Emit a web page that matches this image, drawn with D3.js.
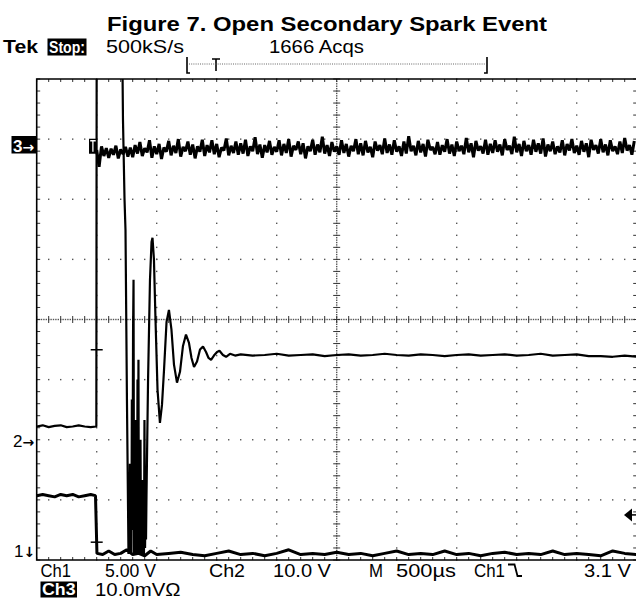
<!DOCTYPE html>
<html>
<head>
<meta charset="utf-8">
<script src="https://cdn.jsdelivr.net/npm/d3@7"></script>
<style>
  html, body { margin: 0; padding: 0; background: #fff; }
  svg { display: block; }
  text { font-family: 'Liberation Sans', Arial, sans-serif; }
</style>
</head>
<body>
<svg id="canvas" width="636" height="600"></svg>
<script>
// scope settings
var timeDomain = [-500, 4500] // µs, 500 µs/div, trigger one division in
var divisions = 8
var voltsPerDiv = [5, 10, 10] // Ch1 V, Ch2 V, Ch3 mV
var groundDiv = [0.13, 2.0, 6.94] // where each channel's ground marker sits
var triggerLevel = 3.1 // Ch1, falling edge

// Ch1 (5 V/div)
var ch1Time = [-500, -450, -400, -350, -300, -250, -200, -150, -100, -50, -10, 2,
  50, 100, 150, 200, 250, 300, 350, 400, 450, 500, 600, 700, 800, 900, 1000, 1100,
  1200, 1300, 1400, 1500, 1600, 1700, 1800, 1900, 2000, 2100, 2200, 2300, 2400,
  2500, 2600, 2700, 2800, 2900, 3000, 3100, 3200, 3300, 3400, 3500, 3600, 3700,
  3800, 3900, 4000, 4100, 4200, 4300, 4400, 4500]
var ch1Volts = [4.7, 4.8, 4.7, 4.6, 4.8, 4.7, 4.8, 4.6, 4.7, 4.8, 4.7, -0.1,
  -0.2, 0.1, -0.2, -0.1, 0.2, -0.2, -0.1, -0.3, 0.1, -0.2, -0.1, 0.0, -0.2, -0.3,
  -0.1, 0.1, -0.2, -0.1, -0.3, -0.1, 0.2, -0.2, -0.1, -0.2, 0.0, -0.2, -0.1, -0.3,
  -0.1, 0.1, -0.2, -0.1, -0.2, 0.1, -0.2, -0.1, -0.3, -0.1, 0.0, -0.2, -0.1, -0.2,
  0.1, -0.2, -0.1, -0.2, -0.3, 0.1, -0.1, -0.2]

// Ch2 (10 V/div), off the top of the screen between the edges
var ch2Time = [-500, -450, -400, -350, -300, -250, -200, -150, -100, -50, -3, 0, 211,
  219, 232, 240, 252, 265, 269, 273, 277, 281, 285, 289, 293, 298, 303, 307, 311,
  315, 319, 323, 327, 332, 336, 340, 344, 348, 352, 357, 361, 365, 369, 373, 377,
  382, 386, 390, 394, 398, 403, 407, 411, 415, 428, 444, 457, 465, 477, 490, 507,
  527, 544, 561, 582, 602, 623, 644, 669, 694, 719, 744, 769, 790, 811, 836, 861,
  886, 911, 932, 953, 977, 1003, 1023, 1052, 1078, 1111, 1153,
  1200, 1300, 1400, 1500, 1600, 1700, 1800, 1900, 2000, 2100, 2200, 2300, 2400,
  2500, 2600, 2700, 2800, 2900, 3000, 3100, 3200, 3300, 3400, 3500, 3600, 3700,
  3800, 3900, 4000, 4100, 4200, 4300, 4400, 4500]
var ch2Volts = [2.2, 2.4, 2.1, 2.3, 2.4, 2.1, 2.2, 2.4, 2.2, 2.1, 2.2, 70, 70,
  53.2, 39.9, 34.9, 6.7, -19, -9, -19, -4, -19, -7, -19, 6.7, -15, 18, 26.6, -19,
  -2, -19, 3.3, -17, -8, -19, 10, -12, 13.3, -19, -3, -19, 0, -19, -10, -19,
  -6.7, -19, -12, -19, 3.3, -18, -10, -16.6, -9.2, 10, 26.6, 32.9, 33.6, 30, 20,
  8.3, 2.8, 5.8, 11.6, 19.6, 21.6, 18.3, 12.5, 9.5, 11.3, 15.6, 17.5, 16.1, 13.6,
  12.1, 13.0, 15.0, 15.5, 14.6, 13.6, 13.3, 14.0, 14.6, 14.8, 14.1, 13.8, 14.3,
  14.0,
  14.2, 14.0, 14.1, 14.3, 14.0, 14.1, 14.2, 13.9, 14.1, 14.2, 14.0, 14.1, 14.3,
  14.1, 14.0, 14.2, 14.1, 13.9, 14.1, 14.2, 14.0, 14.1, 14.2, 14.0, 14.1, 14.3,
  14.0, 14.1, 14.2, 13.9, 13.9, 13.8, 14.0, 13.8]

// Ch3 (10 mV/div), one sample every 20 µs from the trigger on
var ch3Start = 0
var ch3Interval = 20
var ch3MilliVolts = [
  -1.2, -4.0, -0.6, -2.2, -0.9, -2.5, -1.0, -2.0, -0.5, -2.6, -1.1, -1.9, -0.7, -2.3, -0.8,
  -2.4, -0.4, -1.8, 0.1, -2.2, -0.9, -1.6, 0.4, -2.5, -0.6, -1.9, -0.2, -2.7, -0.8, -1.5,
  0.3, -2.1, -0.5, -1.7, 0.6, -2.3, -0.7, -1.4, 0.2, -2.0, -0.3, -2.6, -0.6, -1.5, 0.5,
  -2.2, -0.4, -1.6, 0.4, -1.9, -0.2, -2.4, -0.8, -1.3, 0.7, -2.1, -0.5, -1.7, 0.2, -2.0,
  -0.1, -1.8, 0.5, -2.2, -0.6, -1.4, 0.9, -1.9, -0.3, -2.5, -0.4, -1.6, 0.3, -2.0, -0.7,
  -1.5, 0.4, -2.1, -0.2, -1.7, 0.6, -2.3, -0.5, -1.2, 0.2, -1.9, -0.1, -2.6, -0.6, -1.4,
  0.5, -2.0, -0.3, -1.6, 1.0, -1.8, -0.4, -2.2, 0.1, -1.5, -0.6, -2.0, 0.4, -1.7, -0.2,
  -2.3, -0.5, -1.4, 0.6, -1.9, -0.1, -2.1, 0.3, -1.6, -0.7, -2.4, 0.2, -1.3, -0.4, -1.9,
  0.7, -1.7, -0.3, -2.0, 0.4, -1.5, -0.6, -2.2, 0.2, -1.8, 1.1, -1.4, -0.5, -2.1, 0.3,
  -1.6, -0.2, -2.3, 0.5, -1.2, -0.7, -1.9, 0.1, -2.0, -0.4, -1.5, 0.6, -1.8, -0.3, -2.2,
  0.2, -1.4, -0.5, -1.9, 0.8, -1.6, -0.1, -2.4, 0.3, -1.3, -0.6, -1.8, 0.5, -2.0, -0.2,
  -1.7, 0.4, -1.5, -0.3, -2.1, 0.6, -1.2, -0.5, -1.9, 1.0, -1.6, -0.2, -2.2, 0.3, -1.4,
  -0.4, -2.0, 0.5, -1.5, -0.1, -1.8, 0.7, -2.3, -0.3, -1.4, 0.2, -1.9, -0.6, -1.6, 0.4,
  -2.1, -0.2, -1.3, 0.6, -1.7, -0.5, -2.0, 0.3, -1.5, -0.1, -2.4, 0.5, -1.2, -0.4, -1.8,
  0.6, -1.6, -0.3, -2.1, 0.4, -1.4, -0.6, -1.9, 0.2, -1.7, 0.8, -1.3, -0.4, -2.0, 0.3]

// texts on the screen
var titleText = 'Figure 7. Open Secondary Spark Event'
var statusTexts = ['Tek', 'Stop:', '500kS/s', '1666 Acqs']
var readoutTexts = ['Ch1', '5.00 V', 'Ch2', '10.0 V', 'M', '500µs', 'Ch1', '3.1 V']
var ch3Readout = ['Ch3', '10.0mVΩ']
var markerTexts = [['1', '↓'], ['2', '→'], ['3', '→']]

;(function (d3) {
  'use strict'
  var svg = d3.select('#canvas')
  var left = 36.7
  var right = 636.7
  var top = 79
  var bottom = 560

  var x = d3.scaleLinear().domain(timeDomain).range([left, right])
  var y = d3.scaleLinear().domain([0, divisions]).range([bottom, top])
  var timePerDiv = (timeDomain[1] - timeDomain[0]) / 10
  var centerTime = timeDomain[0] + timePerDiv * 5

  // ---- graticule
  var grid = svg.append('g')
  var minorX = d3.range(timeDomain[0], timeDomain[1] + 1, timePerDiv / 5)
  var minorY = d3.range(0, divisions + 0.01, 0.2)
  var majorX = d3.range(timeDomain[0] + timePerDiv, timeDomain[1] - 1, timePerDiv)
  var majorY = d3.range(1, divisions, 1)
  var dots = []
  majorX.forEach(function (t) {
    if (t === centerTime) return
    minorY.forEach(function (d) { dots.push([x(t), y(d)]) })
  })
  majorY.forEach(function (d) {
    if (d === divisions / 2) return
    minorX.forEach(function (t) { dots.push([x(t), y(d)]) })
  })
  // dense centre cross
  d3.range(timeDomain[0], timeDomain[1], timePerDiv / 25).forEach(function (t) {
    dots.push([x(t), y(divisions / 2)])
  })
  d3.range(0, divisions, 0.04).forEach(function (d) {
    dots.push([x(centerTime), y(d)])
  })
  grid.selectAll('rect.dot').data(dots).enter().append('rect')
    .attr('class', 'dot')
    .attr('x', function (d) { return d[0] - 0.7 })
    .attr('y', function (d) { return d[1] - 0.7 })
    .attr('width', 1.4)
    .attr('height', 1.4)
    .attr('fill', '#555')

  var ticks = []
  minorX.forEach(function (t) {
    ticks.push([x(t), top, x(t), top + 3])
    ticks.push([x(t), bottom - 3, x(t), bottom])
    ticks.push([x(t), y(divisions / 2) - 3.5, x(t), y(divisions / 2) + 3.5])
  })
  minorY.forEach(function (d) {
    ticks.push([left, y(d), left + 3.5, y(d)])
    ticks.push([right - 3.5, y(d), right, y(d)])
    ticks.push([x(centerTime) - 3.5, y(d), x(centerTime) + 3.5, y(d)])
  })
  grid.selectAll('line.tick').data(ticks).enter().append('line')
    .attr('class', 'tick')
    .attr('x1', function (d) { return d[0] })
    .attr('y1', function (d) { return d[1] })
    .attr('x2', function (d) { return d[2] })
    .attr('y2', function (d) { return d[3] })
    .attr('stroke', '#333')
    .attr('stroke-width', 1)

  grid.append('path')
    .attr('d', 'M' + right + ',' + top + 'H' + left + 'V' + bottom + 'H' + right)
    .attr('fill', 'none')
    .attr('stroke', '#000')
    .attr('stroke-width', 1.6)

  // ---- traces
  svg.append('clipPath').attr('id', 'screen').append('rect')
    .attr('x', left).attr('y', top)
    .attr('width', right - left).attr('height', bottom - top)

  function trace (times, values, ch, width) {
    var pts = times.map(function (t, i) { return [t, values[i]] })
    var line = d3.line()
      .x(function (d) { return x(d[0]) })
      .y(function (d) { return y(groundDiv[ch] + d[1] / voltsPerDiv[ch]) })
    svg.append('path')
      .datum(pts)
      .attr('clip-path', 'url(#screen)')
      .attr('d', line)
      .attr('fill', 'none')
      .attr('stroke', '#000')
      .attr('stroke-width', width)
      .attr('stroke-linejoin', 'bevel')
  }

  var ch3Time = ch3MilliVolts.map(function (v, i) { return ch3Start + i * ch3Interval })
  trace(ch3Time, ch3MilliVolts, 2, 3)
  trace(ch2Time, ch2Volts, 1, 2.2)
  trace(ch1Time, ch1Volts, 0, 3)

  // trigger point crosses on Ch2 and Ch1 edges
  var tx = x(0)
  ;[y(groundDiv[1]) - 90, y(groundDiv[0]) - 10].forEach(function (yy) {
    svg.append('line')
      .attr('x1', tx - 6).attr('x2', tx + 6)
      .attr('y1', yy).attr('y2', yy)
      .attr('stroke', '#000').attr('stroke-width', 1.5)
  })
  // Ch3 start flag
  var ch3y = y(groundDiv[2])
  svg.append('rect')
    .attr('x', tx - 7.7).attr('y', ch3y - 4)
    .attr('width', 8).attr('height', 15)
    .attr('fill', '#000')
  svg.append('path')
    .attr('d', 'M' + (tx - 6.5) + ',' + (ch3y - 2) + 'h5.5M' + (tx - 3.8) + ',' + (ch3y - 2) + 'v11')
    .attr('stroke', '#fff').attr('stroke-width', 1.3).attr('fill', 'none')

  // trigger level arrow on the right
  var ty = y(groundDiv[0] + triggerLevel / voltsPerDiv[0])
  svg.append('path')
    .attr('d', 'M624,' + ty + 'L632,' + (ty - 6.5) + 'V' + (ty + 6.5) + 'Z')
    .attr('fill', '#000')
  svg.append('line')
    .attr('x1', 631).attr('x2', 636).attr('y1', ty).attr('y2', ty)
    .attr('stroke', '#000').attr('stroke-width', 1.5)

  // ---- texts
  function label (str, lx, ly, w, opts) {
    opts = opts || {}
    var t = svg.append('text')
      .attr('x', lx).attr('y', ly)
      .attr('font-size', opts.size || 18)
      .attr('font-weight', opts.bold ? 'bold' : 'normal')
      .attr('fill', opts.fill || '#000')
      .text(str)
    if (w) t.attr('textLength', w).attr('lengthAdjust', 'spacingAndGlyphs')
    return t
  }
  function boxed (str, bx, by, bw, bh, size) {
    svg.append('rect').attr('x', bx).attr('y', by).attr('width', bw).attr('height', bh).attr('fill', '#000')
    label(str, bx + 1.5, by + bh - 2.5, bw - 3, { fill: '#fff', bold: true, size: size || 17 })
  }
  function marker (pair, mx, my, boxedMark) {
    if (boxedMark) {
      svg.append('rect').attr('x', mx - 1.5).attr('y', my - 15.5)
        .attr('width', 25).attr('height', 17.5).attr('fill', '#000')
    }
    var t = svg.append('text')
      .attr('x', mx).attr('y', my)
      .attr('font-size', 17)
      .attr('fill', boxedMark ? '#fff' : '#000')
      .attr('font-weight', boxedMark ? 'bold' : 'normal')
    t.append('tspan').text(pair[0])
    t.append('tspan')
      .attr('font-family', 'DejaVu Sans')
      .attr('font-size', 14)
      .attr('font-weight', 'bold')
      .text(pair[1])
  }

  label(titleText, 107, 31, 440, { bold: true, size: 21 })

  label(statusTexts[0], 3, 53, 35, { bold: true, size: 19 })
  boxed(statusTexts[1], 47.5, 38.5, 39, 17)
  label(statusTexts[2], 106, 53, 78, { size: 19 })
  label(statusTexts[3], 269, 53, 95, { size: 19 })

  // record bracket with trigger position
  svg.append('path')
    .attr('d', 'M190,73H187V57M484,73H487V57M212,59H220M216,59V71')
    .attr('fill', 'none').attr('stroke', '#000').attr('stroke-width', 1.6)
  svg.append('line')
    .attr('x1', 189).attr('x2', 486).attr('y1', 64).attr('y2', 64)
    .attr('stroke', '#666').attr('stroke-width', 1).attr('stroke-dasharray', '1,1.2')

  // channel ground markers
  marker(markerTexts[0], 14, 557, false)
  marker(markerTexts[1], 13, 447, false)
  marker(markerTexts[2], 13, 151.5, true)

  // bottom readout
  var readX = [40.5, 105, 209, 273, 369, 396, 474, 584]
  var readW = [30.5, 51, 36, 58, 14, 60, 31, 47]
  readoutTexts.forEach(function (s, i) { label(s, readX[i], 576.5, readW[i], { size: 17.5 }) })
  svg.append('path')
    .attr('d', 'M508,564.5H514.5L517.5,576H522')
    .attr('fill', 'none').attr('stroke', '#000').attr('stroke-width', 1.8)
  boxed(ch3Readout[0], 40.5, 581.5, 36.5, 16)
  label(ch3Readout[1], 95, 596, 85.5, { size: 17.5 })
})(d3)
</script>
</body>
</html>
